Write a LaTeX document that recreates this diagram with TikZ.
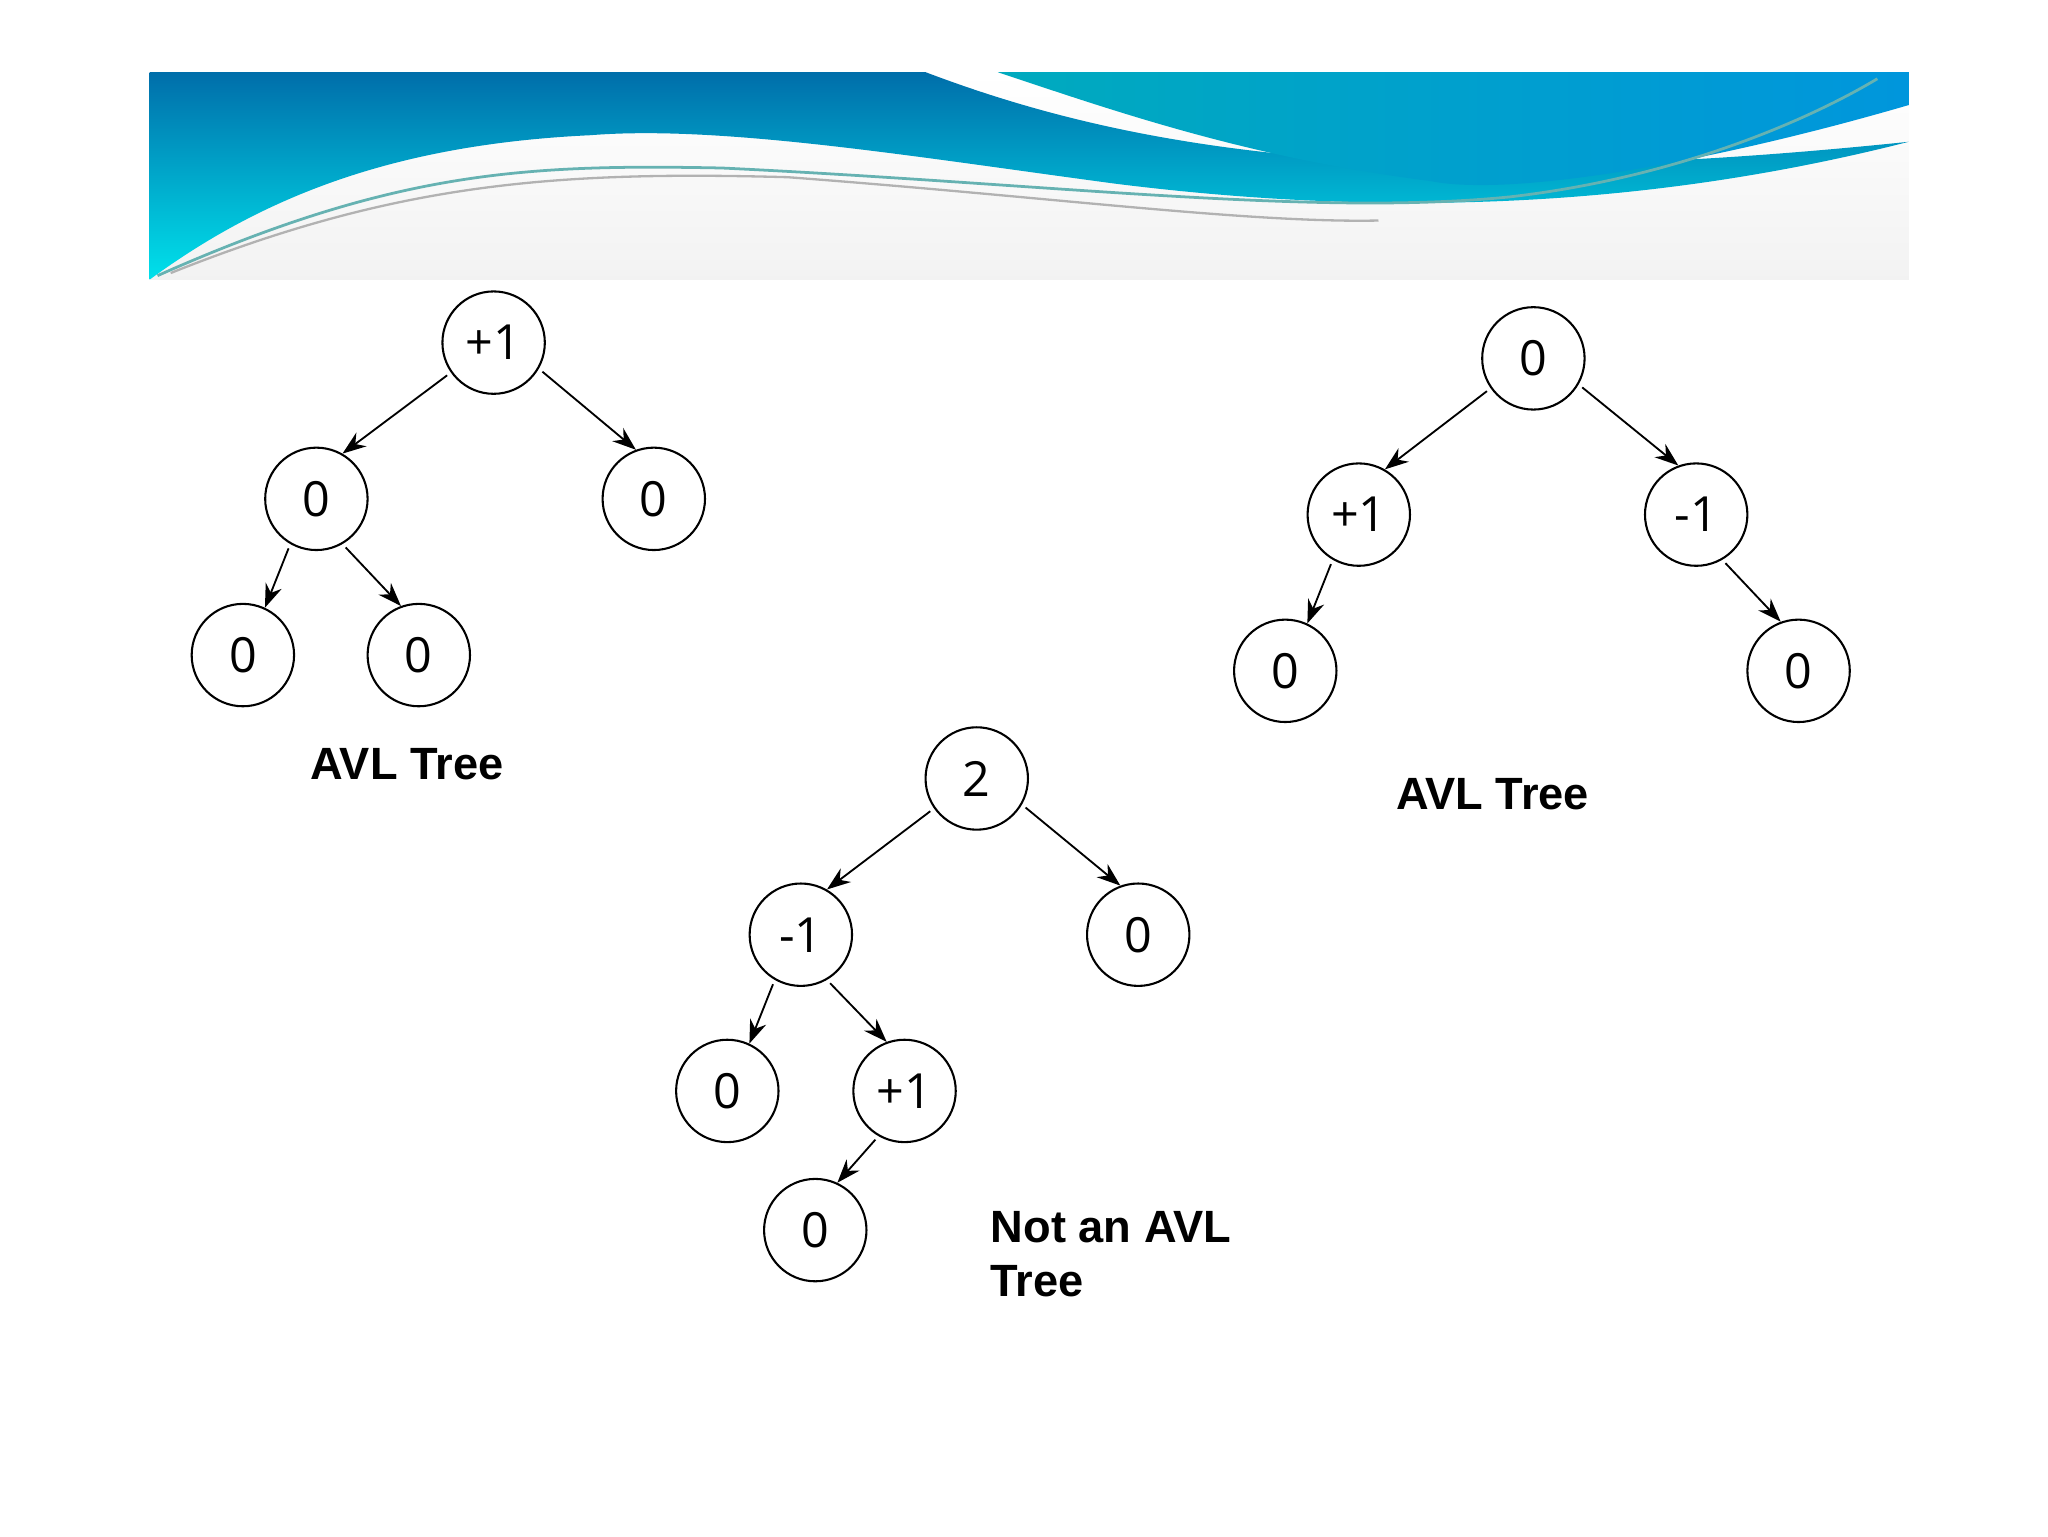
\documentclass[tikz,border=0pt]{standalone}
\usepackage{fontspec}
\setmainfont{Open Sans}
\newfontfamily\labfont{Liberation Sans}
\usetikzlibrary{arrows.meta}
\tikzset{
  bal/.style={draw,circle,minimum size=0.78cm,inner sep=0pt,font=\fontsize{10.5}{12}\selectfont,line width=0.45pt},
  edge/.style={-{Stealth[length=1.8mm,width=1.3mm]},line width=0.4pt,shorten <=1pt},
  lab/.style={font=\labfont\bfseries\fontsize{9.8}{11.8}\selectfont,align=left}
}
\begin{document}
\begin{tikzpicture}
\useasboundingbox (0,0) rectangle (15.6,11.7);
% banner
\shade[top color=white,bottom color=gray!10] (1.14,11.15) rectangle (14.54,9.57);
\shade[top color={rgb,255:red,0;green,110;blue,170},bottom color={rgb,255:red,0;green,225;blue,235}]
  (1.14,9.57) -- (1.14,11.15) -- (7.05,11.15)
  .. controls (8.5,10.6) and (10.5,10.2) .. (14.54,10.62)
  .. controls (12.5,10.1) and (10.5,10.05) .. (8.5,10.3)
  .. controls (7,10.5) and (5.5,10.75) .. (4.5,10.67)
  .. controls (3,10.6) and (2,10.2) .. (1.14,9.57) -- cycle;
\shade[left color={rgb,255:red,0;green,170;blue,190},right color={rgb,255:red,0;green,150;blue,220}]
  (7.6,11.15) -- (14.54,11.15) -- (14.54,10.9)
  .. controls (13,10.45) and (11.5,10.2) .. (10.9,10.32)
  .. controls (9.5,10.5) and (8.5,10.85) .. (7.6,11.15) -- cycle;
\draw[teal!60,line width=0.6pt] (1.2,9.6) .. controls (3,10.4) and (4,10.45) .. (5.5,10.42)
  .. controls (8,10.3) and (10,10.05) .. (11.5,10.2) .. controls (12.8,10.35) and (13.8,10.8) .. (14.3,11.1);
\draw[gray!60,line width=0.5pt] (1.3,9.62) .. controls (3,10.3) and (4.2,10.4) .. (6,10.35)
  .. controls (8,10.2) and (9.5,10.0) .. (10.5,10.02);
% tree 1
\node[bal] (a) at (3.76,9.09) {+1};
\node[bal] (b) at (2.41,7.90) {0};
\node[bal] (c) at (4.98,7.90) {0};
\node[bal] (d) at (1.85,6.71) {0};
\node[bal] (e) at (3.19,6.71) {0};
\draw[edge] (a.215) -- (b.60); \draw[edge] (a.-30) -- (c.110);
\draw[edge] (b.240) -- (d.65); \draw[edge] (b.-60) -- (e.110);
\node[lab] (l1) at (3.10,5.88) {AVL Tree};
% tree 2
\node[bal] (r) at (11.68,8.97) {0};
\node[bal] (p) at (10.35,7.78) {+1};
\node[bal] (m) at (12.92,7.78) {-1};
\node[bal] (l) at (9.79,6.59) {0};
\node[bal] (q) at (13.70,6.59) {0};
\draw[edge] (r.215) -- (p.60); \draw[edge] (r.-30) -- (m.110);
\draw[edge] (p.240) -- (l.65); \draw[edge] (m.-60) -- (q.110);
\node[lab] (l2) at (11.37,5.65) {AVL Tree};
% tree 3
\node[bal] (t) at (7.44,5.77) {2};
\node[bal] (u) at (6.10,4.58) {-1};
\node[bal] (v) at (8.67,4.58) {0};
\node[bal] (w) at (5.54,3.39) {0};
\node[bal] (x) at (6.89,3.39) {+1};
\node[bal] (y) at (6.21,2.33) {0};
\draw[edge] (t.215) -- (u.60); \draw[edge] (t.-30) -- (v.110);
\draw[edge] (u.240) -- (w.65); \draw[edge] (u.-60) -- (x.110);
\draw[edge] (x.240) -- (y.65);
\node[lab,anchor=north west,inner sep=0pt] (l3) at (7.54,2.48) {Not an AVL\\Tree};
\end{tikzpicture}
\end{document}
